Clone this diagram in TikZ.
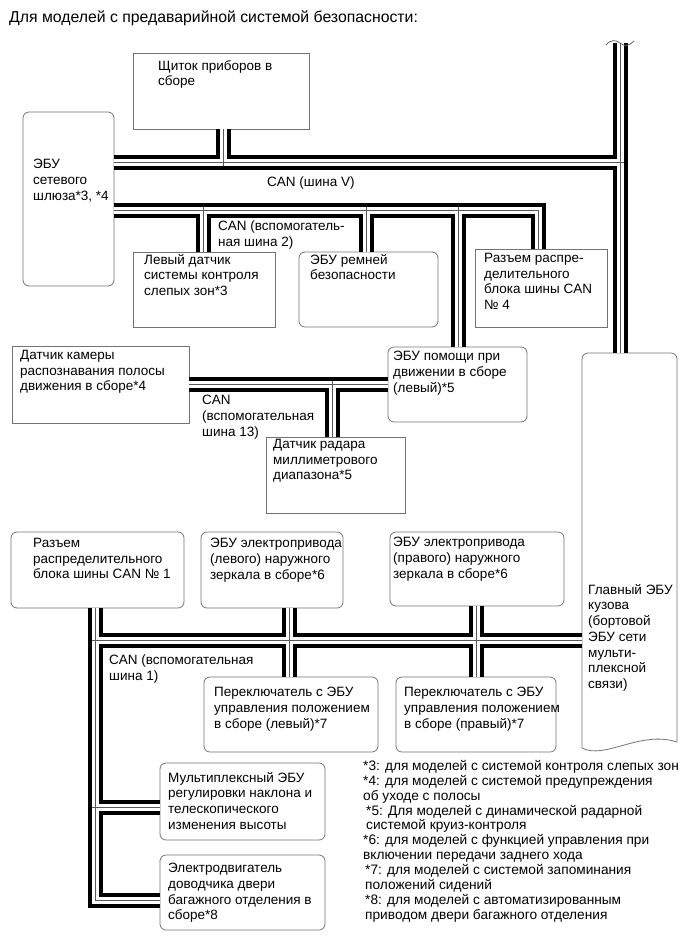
\documentclass[tikz,border=0pt]{standalone}
\usepackage{fontspec}
\setmainfont{Liberation Sans}
\tikzset{
  bxline/.style={draw=black!55, line width=0.8pt},
  bx/.style={bxline, anchor=north west, inner sep=0pt, outer sep=0pt},
  rbx/.style={bx, rounded corners=6pt},
  tx/.style={anchor=north west, inner sep=0pt, align=left, font=\fontsize{13.5}{15.7}\selectfont},
  busK/.style={line width=15pt, draw=black},
  busW/.style={line width=7pt, draw=white},
  busT/.style={line width=0.8pt, draw=black!65},
}
\newcommand\BusNet[2]{%
  \draw[#1, shorten >=#2] (gw.east |- jV) -- (jV);
  \draw[#1] (top) -- (main.north -| jV);
  \draw[#1, shorten <=#2] (jSh) -- (shch.south -| jSh);
  \draw[#1] (gw.east |- c2) -- (c2) -- (r4.north -| c2);
  \draw[#1, shorten <=#2] (j2a) -- (ld.north -| j2a);
  \draw[#1, shorten <=#2] (j2b) -- (belt.north -| j2b);
  \draw[#1, shorten <=#2] (j2c) -- (help.north -| j2c);
  \draw[#1] (cam.east |- j13) -- (help.west |- j13);
  \draw[#1, shorten <=#2] (j13) -- (radar.north -| j13);
  \draw[#1] (r1.south -| j1) -- (c1) -- (motor.west |- c1);
  \draw[#1, shorten <=#2] (j1) -- (main.west |- j1);
  \draw[#1, shorten <=#2] (j1m) -- (multi.west |- j1m);
  \draw[#1] (mirL.south -| x1a) -- (swL.north -| x1a);
  \draw[#1] (mirR.south -| x1b) -- (swR.north -| x1b);
}
\begin{document}
\begin{tikzpicture}[x=1pt,y=-1pt]
\path[use as bounding box] (0,0) rectangle (690,951);

% title
\node[anchor=north west, inner sep=0pt, font=\fontsize{15.8}{18}\selectfont] (title) at (9,11) {Для моделей с предаварийной системой безопасности:};

% boxes
\node[bx,  minimum width=176pt, minimum height=76pt]  (shch)  at (133,53) {};
\node[rbx, minimum width=91pt,  minimum height=174pt] (gw)    at (23,112) {};
\node[bx,  minimum width=142pt, minimum height=75pt]  (ld)    at (133,252) {};
\node[rbx, minimum width=139pt, minimum height=75pt]  (belt)  at (299,252) {};
\node[bx,  minimum width=132pt, minimum height=78pt]  (r4)    at (475,249) {};
\node[bx,  minimum width=177pt, minimum height=77pt]  (cam)   at (12,346) {};
\node[rbx, minimum width=139pt, minimum height=75pt]  (help)  at (388,347) {};
\node[bx,  minimum width=139pt, minimum height=76pt]  (radar) at (266,437) {};
\node[anchor=north west, inner sep=0pt, outer sep=0pt, minimum width=95pt, minimum height=395pt] (main) at (582,353) {};
\node[rbx, minimum width=173pt, minimum height=76pt]  (r1)    at (11,532) {};
\node[rbx, minimum width=142pt, minimum height=76pt]  (mirL)  at (201,532) {};
\node[rbx, minimum width=174pt, minimum height=74pt]  (mirR)  at (390,532) {};
\node[rbx, minimum width=174pt, minimum height=75pt]  (swL)   at (204,677) {};
\node[rbx, minimum width=160pt, minimum height=75pt]  (swR)   at (396,677) {};
\node[rbx, minimum width=165pt, minimum height=77pt]  (multi) at (160,763) {};
\node[rbx, minimum width=165pt, minimum height=75pt]  (motor) at (160,855) {};

% main body ECU outline (rounded top, wavy bottom)
\draw[bxline, rounded corners=6pt] (main.south west) -- (main.north west) -- (main.north east) -- ([shift={(0,-6)}]main.south east);
\draw[bxline] (main.south west) .. controls ([shift={(23,12)}]main.south west) and ([shift={(-37,-18)}]main.south east) .. ([shift={(0,-6)}]main.south east);

% junction coordinates
\coordinate (jV)  at (620,162);
\coordinate (top) at (620,43);
\coordinate (jSh) at (223,162);
\coordinate (j2a) at (203,210);
\coordinate (j2b) at (366,210);
\coordinate (j2c) at (458,210);
\coordinate (c2)  at (538,210);
\coordinate (j13) at (332,384);
\coordinate (j1)  at (95,640);
\coordinate (j1m) at (95,807);
\coordinate (c1)  at (95,900);
\coordinate (x1a) at (289,640);
\coordinate (x1b) at (476,640);

% buses (twisted pair look)
\BusNet{busK}{0pt}
\BusNet{busW}{0pt}
\BusNet{busT}{-3.5pt}

% break mark on top of trunk
\draw[black!60, line width=0.8pt] ([shift={(-14,2)}]top) .. controls ([shift={(-9,-4)}]top) and ([shift={(-4,-3)}]top) .. (top) .. controls ([shift={(5,4)}]top) and ([shift={(9,3)}]top) .. ([shift={(14,-2)}]top);

% texts
\node[tx] (shchT)  at (158,60)  {Щиток приборов в\\сборе};
\node[tx] (gwT)    at (33,159)  {ЭБУ\\сетевого\\шлюза*3, *4};
\node[tx] (ldT)    at (144,254) {Левый датчик\\системы контроля\\слепых зон*3};
\node[tx] (beltT)  at (310,254) {ЭБУ ремней\\безопасности};
\node[tx] (r4T)    at (484,253) {Разъем распре-\\делительного\\блока шины CAN\\№ 4};
\node[tx] (camT)   at (20,350)  {Датчик камеры\\распознавания полосы\\движения в сборе*4};
\node[tx] (helpT)  at (393,351) {ЭБУ помощи при\\движении в сборе\\(левый)*5};
\node[tx] (radarT) at (273,439) {Датчик радара\\миллиметрового\\диапазона*5};
\node[tx] (mainT)  at (588,584) {Главный ЭБУ\\кузова\\(бортовой\\ЭБУ сети\\мульти-\\плексной\\связи)};
\node[tx] (r1T)    at (33,538)  {Разъем\\распределительного\\блока шины CAN № 1};
\node[tx] (mirLT)  at (210,538) {ЭБУ электропривода\\(левого) наружного\\зеркала в сборе*6};
\node[tx] (mirRT)  at (393,537) {ЭБУ электропривода\\(правого) наружного\\зеркала в сборе*6};
\node[tx] (swLT)   at (214,687) {Переключатель с ЭБУ\\управления положением\\в сборе (левый)*7};
\node[tx] (swRT)   at (404,687) {Переключатель с ЭБУ\\управления положением\\в сборе (правый)*7};
\node[tx] (multiT) at (168,772) {Мультиплексный ЭБУ\\регулировки наклона и\\телескопического\\изменения высоты};
\node[tx] (motorT) at (168,863) {Электродвигатель\\доводчика двери\\багажного отделения в\\сборе*8};

% bus labels
\node[tx] (canV)  at (267,177) {CAN (шина V)};
\node[tx] (can2)  at (218,221) {CAN (вспомогатель-\\ная шина 2)};
\node[tx] (can13) at (202,395) {CAN\\(вспомогательная\\шина 13)};
\node[tx] (can1)  at (109,655) {CAN (вспомогательная\\шина 1)};

% footnotes
\node[tx, font=\fontsize{13.7}{14.9}\selectfont] (notes) at (363,760) {*3: для моделей с системой контроля слепых зон\\*4: для моделей с системой предупреждения\\об уходе с полосы\\\kern3pt*5: Для моделей с динамической радарной\\\kern3pt системой круиз-контроля\\*6: для моделей с функцией управления при\\включении передачи заднего хода\\\kern2pt*7: для моделей с системой запоминания\\\kern2pt положений сидений\\\kern2pt*8: для моделей с автоматизированным\\\kern2pt приводом двери багажного отделения};
\end{tikzpicture}
\end{document}
